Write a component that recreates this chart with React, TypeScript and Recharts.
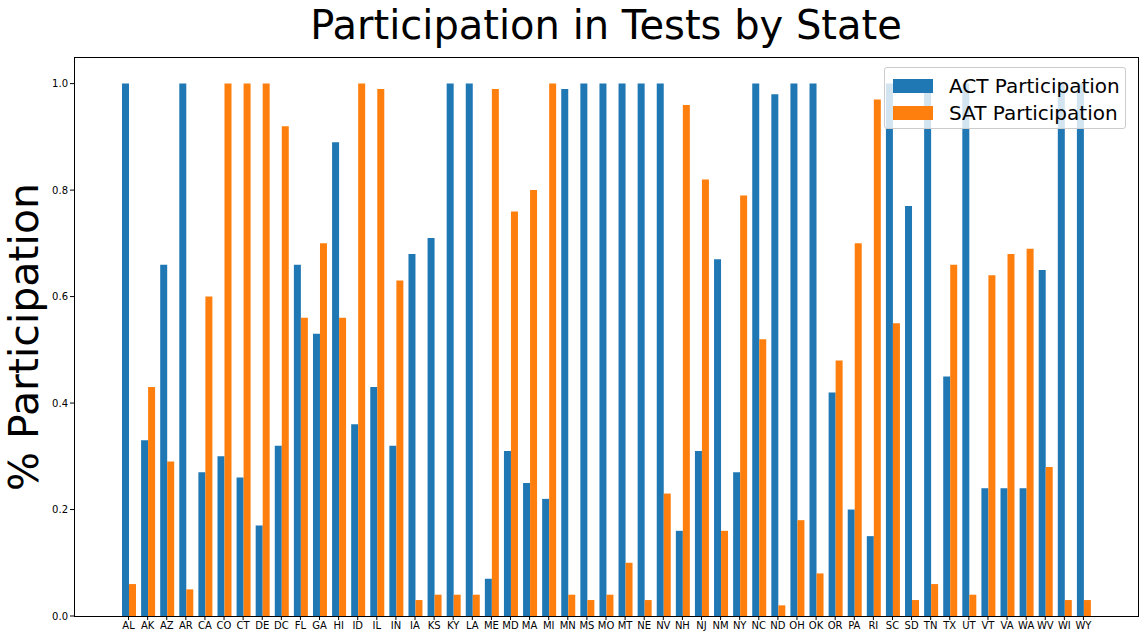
import { Bar, BarChart, XAxis, YAxis } from 'recharts'

const states = ['AL','AK','AZ','AR','CA','CO','CT','DE','DC','FL','GA','HI','ID','IL','IN','IA','KS','KY','LA','ME','MD','MA','MI','MN','MS','MO','MT','NE','NV','NH','NJ','NM','NY','NC','ND','OH','OK','OR','PA','RI','SC','SD','TN','TX','UT','VT','VA','WA','WV','WI','WY']
const actValues = [1,0.33,0.66,1,0.27,0.3,0.26,0.17,0.32,0.66,0.53,0.89,0.36,0.43,0.32,0.68,0.71,1,1,0.07,0.31,0.25,0.22,0.99,1,1,1,1,1,0.16,0.31,0.67,0.27,1,0.98,1,1,0.42,0.2,0.15,1,0.77,1,0.45,1,0.24,0.24,0.24,0.65,1,1]
const satValues = [0.06,0.43,0.29,0.05,0.6,1,1,1,0.92,0.56,0.7,0.56,1,0.99,0.63,0.03,0.04,0.04,0.04,0.99,0.76,0.8,1,0.04,0.03,0.04,0.1,0.03,0.23,0.96,0.82,0.16,0.79,0.52,0.02,0.18,0.08,0.48,0.7,0.97,0.55,0.03,0.06,0.66,0.04,0.64,0.68,0.69,0.28,0.03,0.03]
const yTicks = [0, 0.2, 0.4, 0.6, 0.8, 1.0]

const data = states.map((s, i) => ({ state: s, act: actValues[i], sat: satValues[i] }))

const font = '"DejaVu Sans", sans-serif'
const tick = { fontSize: 10, fill: '#000', fontFamily: font }

export default function App() {
  return (
    <div style={{ position: 'absolute', left: 0, top: 0, width: 1144, height: 640, background: '#fff', fontFamily: font }}>
      <div style={{ position: 'absolute', left: 0, width: 1212, top: 2, textAlign: 'center', fontSize: 40 }}>
        Participation in Tests by State
      </div>
      <div style={{ position: 'absolute', left: 24, top: 337, transform: 'translate(-50%,-50%) rotate(-90deg)', fontSize: 41, whiteSpace: 'nowrap' }}>
        % Participation
      </div>
      <BarChart width={1144} height={640} data={data} margin={{ top: 57, right: 6, bottom: 4, left: 34 }} barGap={0} barSize={7}>
        <XAxis dataKey="state" interval={0} height={20} tick={tick} tickLine={{ stroke: '#000' }} axisLine={false} padding={{ left: 45, right: 45 }} tickSize={4} />
        <YAxis domain={[0, 1.05]} ticks={yTicks} width={40} tick={tick} tickFormatter={(v: number) => v.toFixed(1)} tickLine={{ stroke: '#000' }} axisLine={false} tickSize={4} />
        <Bar dataKey="act" fill="#1f77b4" isAnimationActive={false} />
        <Bar dataKey="sat" fill="#ff7f0e" isAnimationActive={false} />
      </BarChart>
      <div style={{ position: 'absolute', left: 74, top: 57, width: 1063, height: 558, border: '1px solid #000', pointerEvents: 'none' }} />
      <div style={{ position: 'absolute', left: 884, top: 67, width: 242, height: 62, border: '1px solid #ccc', borderRadius: 3, background: 'rgba(255,255,255,0.8)', fontSize: 20, padding: '4px 0 0 8px', boxSizing: 'border-box' }}>
        {[['#1f77b4', 'ACT Participation'], ['#ff7f0e', 'SAT Participation']].map(([c, l]) => (
          <div key={l} style={{ display: 'flex', alignItems: 'center', height: 27 }}>
            <span style={{ width: 40, height: 14, background: c, marginRight: 16 }} />
            {l}
          </div>
        ))}
      </div>
    </div>
  )
}
